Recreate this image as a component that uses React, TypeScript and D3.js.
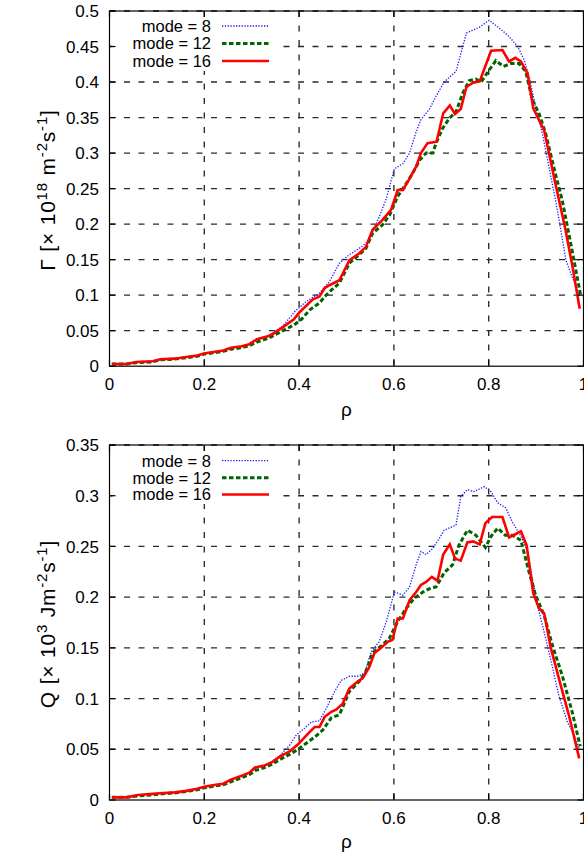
import React from "react";
import * as d3 from "d3";

type Pt = [number, number];

const rhoTicks = [0, 0.2, 0.4, 0.6, 0.8, 1];
const rhoTickLabels = ["0", "0.2", "0.4", "0.6", "0.8", "1"];
const gammaTicks = [0, 0.05, 0.1, 0.15, 0.2, 0.25, 0.3, 0.35, 0.4, 0.45, 0.5];
const gammaTickLabels = ["0", "0.05", "0.1", "0.15", "0.2", "0.25", "0.3", "0.35", "0.4", "0.45", "0.5"];
const qTicks = [0, 0.05, 0.1, 0.15, 0.2, 0.25, 0.3, 0.35];
const qTickLabels = ["0", "0.05", "0.1", "0.15", "0.2", "0.25", "0.3", "0.35"];
const seriesNames = ["mode = 8", "mode = 12", "mode = 16"];

const gammaMode8: Pt[] = [
  [0.005, 0.003], [0.036, 0.003], [0.056, 0.006], [0.091, 0.007], [0.107, 0.0095], [0.138, 0.0105],
  [0.162, 0.013], [0.185, 0.015], [0.2, 0.018], [0.24, 0.022], [0.256, 0.025], [0.279, 0.028],
  [0.295, 0.031], [0.311, 0.037], [0.334, 0.042], [0.346, 0.047], [0.366, 0.057], [0.38, 0.068],
  [0.391, 0.077], [0.415, 0.091], [0.443, 0.103], [0.464, 0.119], [0.485, 0.145], [0.506, 0.157],
  [0.527, 0.166], [0.541, 0.173], [0.555, 0.189], [0.569, 0.21], [0.584, 0.236], [0.601, 0.278],
  [0.619, 0.285], [0.633, 0.3], [0.647, 0.33], [0.657, 0.347], [0.675, 0.362], [0.689, 0.38],
  [0.706, 0.4], [0.731, 0.415], [0.753, 0.469], [0.78, 0.477], [0.801, 0.487], [0.826, 0.474],
  [0.843, 0.464], [0.861, 0.45], [0.875, 0.431], [0.885, 0.408], [0.899, 0.365], [0.913, 0.328],
  [0.927, 0.281], [0.941, 0.234], [0.952, 0.192], [0.963, 0.149], [0.976, 0.126], [0.992, 0.1],
];

const gammaMode12: Pt[] = [
  [0.005, 0.003], [0.036, 0.003], [0.056, 0.005], [0.091, 0.006], [0.107, 0.009], [0.138, 0.01],
  [0.162, 0.012], [0.185, 0.014], [0.2, 0.017], [0.24, 0.021], [0.256, 0.024], [0.279, 0.026],
  [0.295, 0.029], [0.311, 0.034], [0.334, 0.039], [0.346, 0.043], [0.366, 0.05], [0.389, 0.058],
  [0.405, 0.066], [0.422, 0.079], [0.443, 0.089], [0.454, 0.098], [0.468, 0.107], [0.485, 0.117],
  [0.506, 0.145], [0.527, 0.157], [0.541, 0.166], [0.555, 0.187], [0.576, 0.199], [0.591, 0.213],
  [0.608, 0.239], [0.626, 0.257], [0.64, 0.272], [0.654, 0.29], [0.668, 0.3], [0.682, 0.3],
  [0.689, 0.314], [0.703, 0.335], [0.717, 0.349], [0.731, 0.358], [0.745, 0.384], [0.759, 0.402],
  [0.773, 0.404], [0.784, 0.4], [0.801, 0.417], [0.815, 0.43], [0.831, 0.422], [0.847, 0.426],
  [0.864, 0.426], [0.878, 0.415], [0.892, 0.375], [0.906, 0.356], [0.92, 0.328], [0.941, 0.27],
  [0.955, 0.234], [0.973, 0.173], [0.994, 0.1],
];

const gammaMode16: Pt[] = [
  [0.005, 0.003], [0.036, 0.003], [0.056, 0.006], [0.091, 0.007], [0.107, 0.0097], [0.138, 0.0106],
  [0.162, 0.013], [0.185, 0.015], [0.199, 0.018], [0.24, 0.022], [0.256, 0.026], [0.279, 0.028],
  [0.295, 0.031], [0.311, 0.038], [0.334, 0.042], [0.346, 0.046], [0.366, 0.055], [0.389, 0.066],
  [0.401, 0.076], [0.429, 0.094], [0.443, 0.098], [0.454, 0.11], [0.464, 0.114], [0.485, 0.121],
  [0.506, 0.149], [0.527, 0.159], [0.541, 0.168], [0.555, 0.192], [0.576, 0.206], [0.594, 0.22],
  [0.608, 0.248], [0.619, 0.248], [0.633, 0.264], [0.647, 0.281], [0.657, 0.3], [0.671, 0.314],
  [0.69, 0.316], [0.704, 0.356], [0.718, 0.367], [0.729, 0.355], [0.741, 0.362], [0.753, 0.393],
  [0.767, 0.399], [0.781, 0.401], [0.805, 0.444], [0.829, 0.445], [0.843, 0.429], [0.856, 0.434],
  [0.868, 0.429], [0.882, 0.412], [0.894, 0.363], [0.917, 0.332], [0.941, 0.256], [0.962, 0.192],
  [0.976, 0.143], [0.992, 0.081],
];

const qMode8: Pt[] = [
  [0.005, 0.0026], [0.036, 0.0026], [0.06, 0.005], [0.091, 0.006], [0.107, 0.0066], [0.138, 0.0075],
  [0.162, 0.009], [0.185, 0.011], [0.2, 0.013], [0.224, 0.015], [0.24, 0.016], [0.256, 0.02],
  [0.279, 0.023], [0.295, 0.026], [0.307, 0.031], [0.327, 0.034], [0.342, 0.038], [0.36, 0.044],
  [0.38, 0.054], [0.394, 0.064], [0.412, 0.071], [0.426, 0.077], [0.443, 0.078], [0.457, 0.09],
  [0.475, 0.107], [0.489, 0.118], [0.506, 0.122], [0.524, 0.122], [0.538, 0.125], [0.552, 0.146],
  [0.569, 0.156], [0.584, 0.176], [0.601, 0.205], [0.619, 0.202], [0.633, 0.21], [0.647, 0.232],
  [0.657, 0.245], [0.668, 0.242], [0.682, 0.248], [0.696, 0.258], [0.706, 0.266], [0.731, 0.271],
  [0.741, 0.299], [0.755, 0.306], [0.769, 0.304], [0.791, 0.309], [0.805, 0.304], [0.819, 0.293],
  [0.836, 0.288], [0.85, 0.274], [0.868, 0.26], [0.882, 0.245], [0.892, 0.219], [0.906, 0.186],
  [0.92, 0.16], [0.934, 0.132], [0.948, 0.103], [0.966, 0.077], [0.98, 0.064], [0.992, 0.05],
];

const qMode12: Pt[] = [
  [0.005, 0.0026], [0.036, 0.0026], [0.06, 0.004], [0.091, 0.005], [0.107, 0.006], [0.138, 0.007],
  [0.162, 0.0085], [0.185, 0.01], [0.2, 0.012], [0.224, 0.014], [0.24, 0.015], [0.256, 0.018],
  [0.279, 0.022], [0.295, 0.025], [0.307, 0.029], [0.327, 0.032], [0.342, 0.035], [0.36, 0.04],
  [0.38, 0.045], [0.398, 0.05], [0.415, 0.056], [0.433, 0.062], [0.45, 0.069], [0.468, 0.081],
  [0.485, 0.084], [0.506, 0.107], [0.527, 0.117], [0.541, 0.127], [0.555, 0.145], [0.576, 0.153],
  [0.59, 0.159], [0.608, 0.176], [0.626, 0.189], [0.643, 0.199], [0.661, 0.205], [0.678, 0.209],
  [0.689, 0.21], [0.706, 0.224], [0.724, 0.232], [0.737, 0.251], [0.755, 0.266], [0.773, 0.261],
  [0.793, 0.249], [0.805, 0.26], [0.819, 0.268], [0.835, 0.261], [0.85, 0.261], [0.868, 0.256],
  [0.885, 0.225], [0.899, 0.202], [0.917, 0.182], [0.934, 0.153], [0.955, 0.123], [0.976, 0.087],
  [0.993, 0.053],
];

const qMode16: Pt[] = [
  [0.005, 0.0026], [0.036, 0.0026], [0.06, 0.005], [0.091, 0.006], [0.107, 0.0066], [0.138, 0.0075],
  [0.162, 0.009], [0.185, 0.011], [0.2, 0.013], [0.224, 0.015], [0.24, 0.016], [0.256, 0.02],
  [0.279, 0.024], [0.295, 0.027], [0.307, 0.032], [0.327, 0.034], [0.342, 0.037], [0.36, 0.043],
  [0.38, 0.048], [0.398, 0.055], [0.412, 0.062], [0.422, 0.067], [0.433, 0.072], [0.443, 0.072],
  [0.454, 0.082], [0.468, 0.087], [0.478, 0.089], [0.492, 0.095], [0.506, 0.11], [0.524, 0.117],
  [0.534, 0.12], [0.548, 0.131], [0.559, 0.145], [0.573, 0.15], [0.587, 0.156], [0.597, 0.158],
  [0.608, 0.179], [0.619, 0.179], [0.633, 0.197], [0.647, 0.205], [0.657, 0.212], [0.668, 0.215],
  [0.68, 0.22], [0.692, 0.216], [0.704, 0.242], [0.718, 0.252], [0.729, 0.238], [0.741, 0.236],
  [0.755, 0.254], [0.767, 0.255], [0.781, 0.252], [0.793, 0.273], [0.807, 0.279], [0.829, 0.279],
  [0.843, 0.259], [0.856, 0.262], [0.868, 0.265], [0.88, 0.251], [0.894, 0.204], [0.906, 0.189],
  [0.917, 0.184], [0.931, 0.15], [0.952, 0.113], [0.969, 0.084], [0.991, 0.041],
];

const FONT = "'Liberation Sans', Arial, Helvetica, sans-serif";
const W = 584;
const H = 861;
const LEFT = 109.5;
const RIGHT = 583.5;

const lineStyles = [
  { color: "#1a1aff", width: 1.3, dash: "1.3,1.5" },
  { color: "#006400", width: 3, dash: "4.5,2.5" },
  { color: "#ff0000", width: 2.6, dash: undefined as string | undefined },
];

type TitlePart = { t: string; sup?: boolean };

interface PanelProps {
  id: string;
  yTop: number;
  yBottom: number;
  yMax: number;
  yTicks: number[];
  yTickLabels: string[];
  series: Pt[][];
  title: TitlePart[];
  titleCenterY: number;
  legendRowsY: number[];
  legendBox: [number, number];
  xLabelBaseline: number;
  rhoBaseline: number;
}

function Panel(p: PanelProps) {
  const x = d3.scaleLinear().domain([0, 1]).range([LEFT, RIGHT]);
  const y = d3.scaleLinear().domain([0, p.yMax]).range([p.yBottom, p.yTop]);
  const line = d3
    .line<Pt>()
    .x((d) => x(d[0]))
    .y((d) => y(d[1]));
  const gridColor = "#2a2a2a";
  const tick = 6;
  return (
    <g>
      <defs>
        <clipPath id={`clip-${p.id}`}>
          <rect x={LEFT} y={p.yTop} width={RIGHT - LEFT} height={p.yBottom - p.yTop} />
        </clipPath>
      </defs>
      {p.yTicks.slice(1).map((v, i) => (
        <line
          key={`gy${i}`}
          x1={LEFT}
          x2={RIGHT}
          y1={y(v)}
          y2={y(v)}
          stroke={gridColor}
          strokeWidth={1.35}
          strokeDasharray="6,8.5"
        />
      ))}
      {rhoTicks.slice(1, -1).map((v, i) => (
        <line
          key={`gx${i}`}
          x1={x(v)}
          x2={x(v)}
          y1={p.yTop}
          y2={p.yBottom}
          stroke={gridColor}
          strokeWidth={1.35}
          strokeDasharray="6,8.5"
        />
      ))}
      <rect
        x={LEFT + 3}
        y={p.legendBox[0]}
        width={278 - LEFT - 3}
        height={p.legendBox[1] - p.legendBox[0]}
        fill="#fff"
      />
      <g clipPath={`url(#clip-${p.id})`}>
        {p.series.map((s, i) => (
          <path
            key={`s${i}`}
            d={line(s) || ""}
            fill="none"
            stroke={lineStyles[i].color}
            strokeWidth={lineStyles[i].width}
            strokeDasharray={lineStyles[i].dash}
            strokeLinejoin="miter"
          />
        ))}
      </g>
      {seriesNames.map((name, i) => (
        <g key={`lg${i}`}>
          <text
            x={211}
            y={p.legendRowsY[i] + 5.8}
            textAnchor="end"
            fontFamily={FONT}
            fontSize={16.5}
            fill="#000"
          >
            {name}
          </text>
          <line
            x1={222}
            x2={269}
            y1={p.legendRowsY[i]}
            y2={p.legendRowsY[i]}
            stroke={lineStyles[i].color}
            strokeWidth={lineStyles[i].width}
            strokeDasharray={lineStyles[i].dash}
          />
        </g>
      ))}
      <rect
        x={LEFT}
        y={p.yTop}
        width={RIGHT - LEFT}
        height={p.yBottom - p.yTop}
        fill="none"
        stroke="#000"
        strokeWidth={1.2}
      />
      {p.yTicks.map((v, i) => (
        <g key={`yt${i}`}>
          <line x1={LEFT} x2={LEFT + tick} y1={y(v)} y2={y(v)} stroke="#000" strokeWidth={1.2} />
          <line x1={RIGHT - tick} x2={RIGHT} y1={y(v)} y2={y(v)} stroke="#000" strokeWidth={1.2} />
          <text
            x={99}
            y={y(v)}
            dy="0.36em"
            textAnchor="end"
            fontFamily={FONT}
            fontSize={17}
            fill="#000"
          >
            {p.yTickLabels[i]}
          </text>
        </g>
      ))}
      {rhoTicks.map((v, i) => (
        <g key={`xt${i}`}>
          <line x1={x(v)} x2={x(v)} y1={p.yBottom} y2={p.yBottom - tick} stroke="#000" strokeWidth={1.2} />
          <line x1={x(v)} x2={x(v)} y1={p.yTop} y2={p.yTop + tick} stroke="#000" strokeWidth={1.2} />
          <text
            x={x(v)}
            y={p.xLabelBaseline}
            textAnchor="middle"
            fontFamily={FONT}
            fontSize={17}
            fill="#000"
          >
            {rhoTickLabels[i]}
          </text>
        </g>
      ))}
      <text
        x={(LEFT + RIGHT) / 2}
        y={p.rhoBaseline}
        textAnchor="middle"
        fontFamily={FONT}
        fontSize={19}
        fill="#000"
      >
        ρ
      </text>
      <text
        transform={`translate(55,${p.titleCenterY}) rotate(-90)`}
        textAnchor="middle"
        fontFamily={FONT}
        fontSize={21}
        letterSpacing={0.8}
        fill="#000"
      >
        {p.title.map((part, i) => {
          const prevSup = i > 0 && p.title[i - 1].sup;
          const dy = part.sup ? -8.5 : prevSup ? 8.5 : 0;
          return (
            <tspan key={i} dy={dy} fontSize={part.sup ? 15 : 21}>
              {part.t}
            </tspan>
          );
        })}
      </text>
    </g>
  );
}

const gammaTitle: TitlePart[] = [
  { t: "Γ [× 10" },
  { t: "18", sup: true },
  { t: " m" },
  { t: "-2", sup: true },
  { t: "s" },
  { t: "-1", sup: true },
  { t: "]" },
];

const qTitle: TitlePart[] = [
  { t: "Q [× 10" },
  { t: "3", sup: true },
  { t: " Jm" },
  { t: "-2", sup: true },
  { t: "s" },
  { t: "-1", sup: true },
  { t: "]" },
];

export default function App() {
  return (
    <svg
      width={W}
      height={H}
      viewBox={`0 0 ${W} ${H}`}
      style={{ position: "absolute", left: 0, top: 0, background: "#fff" }}
    >
      <rect x={0} y={0} width={W} height={H} fill="#fff" />
      <Panel
        id="gamma"
        yTop={11}
        yBottom={366.2}
        yMax={0.5}
        yTicks={gammaTicks}
        yTickLabels={gammaTickLabels}
        series={[gammaMode8, gammaMode12, gammaMode16]}
        title={gammaTitle}
        titleCenterY={190}
        legendRowsY={[26, 43.5, 61]}
        legendBox={[18.5, 71]}
        xLabelBaseline={389.5}
        rhoBaseline={416}
      />
      <Panel
        id="q"
        yTop={445}
        yBottom={800}
        yMax={0.35}
        yTicks={qTicks}
        yTickLabels={qTickLabels}
        series={[qMode8, qMode12, qMode16]}
        title={qTitle}
        titleCenterY={624}
        legendRowsY={[460.7, 477.7, 494.5]}
        legendBox={[452.5, 504]}
        xLabelBaseline={823.5}
        rhoBaseline={848}
      />
    </svg>
  );
}
